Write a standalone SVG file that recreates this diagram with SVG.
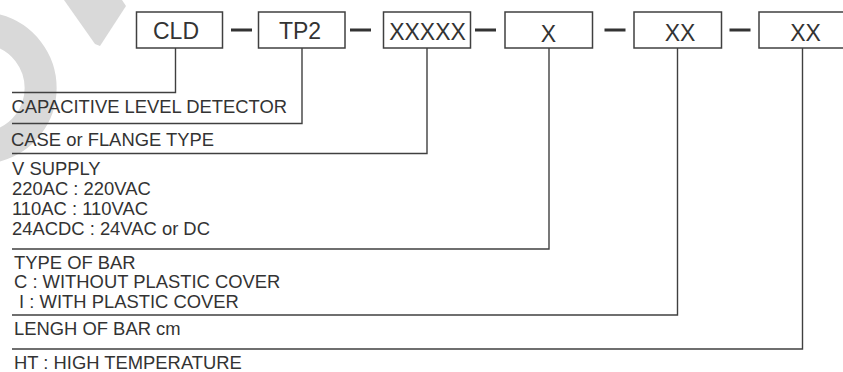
<svg xmlns="http://www.w3.org/2000/svg" width="843" height="372" viewBox="0 0 843 372">
<style>
.box{fill:#fff;stroke:#404040;stroke-width:1.5}
.bt{font-family:"Liberation Sans",Arial,sans-serif;font-size:23px;fill:#333;text-anchor:middle}
.lt{font-family:"Liberation Sans",Arial,sans-serif;font-size:18.4px;fill:#333}
.ln{fill:none;stroke:#404040;stroke-width:1.4}
.dash{fill:#333}
</style>
<rect width="843" height="372" fill="#fff"/>
<g id="watermark" fill="none" stroke="#d9d9d9">
<polygon points="64,0 122,0 126,6 100,46 95,44" fill="#d9d9d9" stroke="none"/>
<path d="M -4,30 A 60 60 0 0 1 -4,146" stroke-width="32"/>
</g>
<g id="dashes">
<rect class="dash" x="231" y="28.5" width="21" height="3"/>
<rect class="dash" x="350" y="28.5" width="21" height="3"/>
<rect class="dash" x="475" y="28.5" width="21" height="3"/>
<rect class="dash" x="604.5" y="28.5" width="21" height="3"/>
<rect class="dash" x="729.5" y="28.5" width="21" height="3"/>
</g>
<g id="connectors">
<polyline class="ln" points="175.5,48 175.5,92.5 12,92.5"/>
<polyline class="ln" points="302,48 302,123.5 12,123.5"/>
<polyline class="ln" points="427,48 427,153.5 12,153.5"/>
<polyline class="ln" points="549,48 549,249 12,249"/>
<polyline class="ln" points="677.5,48 677.5,315 12,315"/>
<polyline class="ln" points="802.5,48 802.5,349 12,349"/>
</g>
<g id="node-cld"><rect class="box" x="136.5" y="12" width="86" height="36"/><text class="bt" x="176" y="38.5">CLD</text></g>
<g id="node-tp2"><rect class="box" x="258.5" y="12" width="86.5" height="36"/><text class="bt" x="300" y="38.5">TP2</text></g>
<g id="node-xxxxx"><rect class="box" x="383.5" y="12" width="87" height="36"/><text class="bt" x="427.5" y="39.5">XXXXX</text></g>
<g id="node-x"><rect class="box" x="505" y="12" width="87.5" height="36"/><text class="bt" x="548.5" y="42">X</text></g>
<g id="node-xx1"><rect class="box" x="634" y="12" width="87.5" height="36"/><text class="bt" x="680" y="41">XX</text></g>
<g id="node-xx2"><rect class="box" x="759" y="12" width="90" height="36"/><text class="bt" x="805.5" y="41">XX</text></g>
<g id="labels">
<text class="lt" x="11.5" y="112.5">CAPACITIVE LEVEL DETECTOR</text>
<text class="lt" x="11" y="145.5">CASE or FLANGE TYPE</text>
<text class="lt" x="12" y="175">V SUPPLY</text>
<text class="lt" x="12" y="195">220AC : 220VAC</text>
<text class="lt" x="12" y="215">110AC : 110VAC</text>
<text class="lt" x="12" y="235">24ACDC : 24VAC or DC</text>
<text class="lt" x="14" y="268.5">TYPE OF BAR</text>
<text class="lt" x="14" y="288">C : WITHOUT PLASTIC COVER</text>
<text class="lt" x="14" y="307.5" xml:space="preserve"> I : WITH PLASTIC COVER</text>
<text class="lt" x="14" y="334.5">LENGH OF BAR cm</text>
<text class="lt" x="14" y="369">HT : HIGH TEMPERATURE</text>
</g>
</svg>
